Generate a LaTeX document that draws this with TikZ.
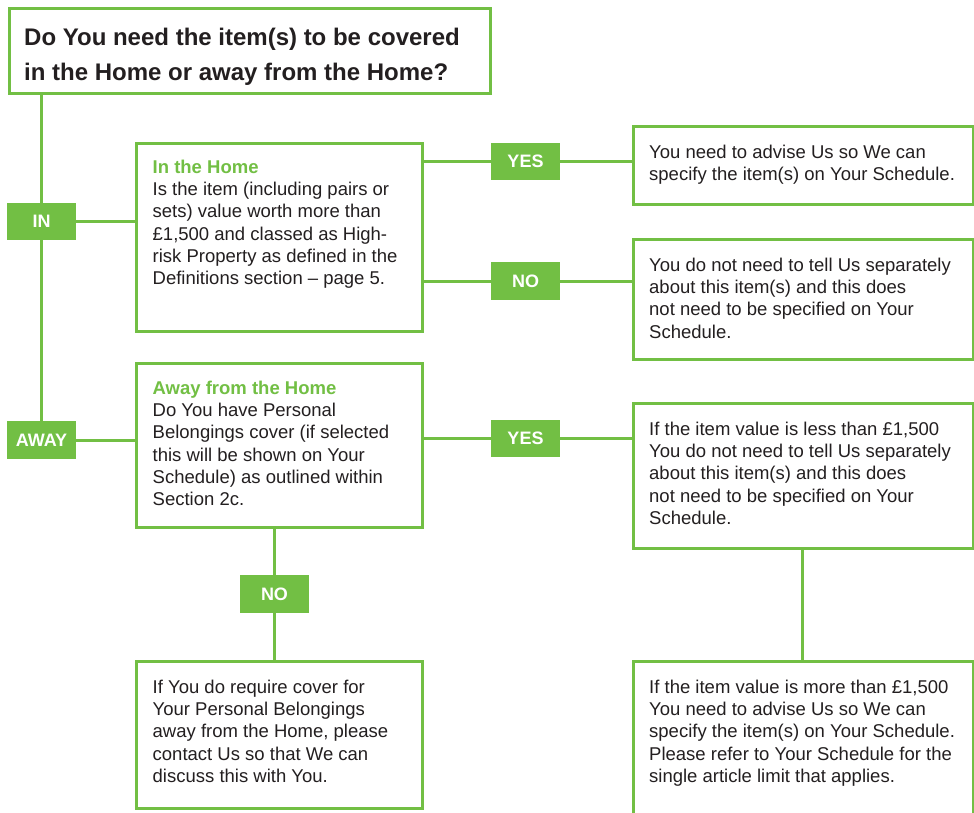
\documentclass[tikz,border=0pt]{standalone}
\usepackage{fontspec}
\setmainfont{Liberation Sans}
\definecolor{grn}{RGB}{114,191,68}
\definecolor{ink}{RGB}{35,31,32}
\begin{document}
\begin{tikzpicture}[x=1pt,y=-1pt,
  frame/.style={draw=grn, line width=3pt, rectangle, inner sep=0pt, anchor=north west},
  lab/.style={fill=grn, text=white, font=\bfseries\fontsize{18}{20}\selectfont, minimum width=69pt, minimum height=37pt, inner sep=0pt},
  body/.style={anchor=north west, align=left, inner sep=0pt, text=ink, font=\fontsize{18.5}{22.3}\selectfont},
  ttl/.style={anchor=north west, align=left, inner sep=0pt, text=ink, font=\bfseries\fontsize{24}{35}\selectfont},
  conn/.style={draw=grn, line width=3pt}]
\clip (0,0) rectangle (974,812);
\fill[white] (0,0) rectangle (974,812);
% frames
\node[frame, minimum width=481pt, minimum height=85pt] (title) at (7.5,6.5) {};
\node[frame, minimum width=286pt, minimum height=188pt] (inhome) at (135,142) {};
\node[frame, minimum width=286pt, minimum height=164pt] (away) at (135,362) {};
\node[frame, minimum width=286pt, minimum height=147pt] (contact) at (135,660) {};
\node[frame, minimum width=340pt, minimum height=78pt] (r1) at (632,125) {};
\node[frame, minimum width=340pt, minimum height=120pt] (r2) at (632,238) {};
\node[frame, minimum width=340pt, minimum height=145pt] (r3) at (632,402) {};
\node[frame, minimum width=340pt, minimum height=180pt] (r4) at (632,660) {};
% labels
\node[lab] (inlab) at (41.5,221.5) {IN};
\node[lab, minimum height=38pt] (awaylab) at (41.5,440) {AWAY};
\node[lab] (yes1) at (525.5,161.5) {YES};
\node[lab, minimum height=38pt] (no1) at (525.5,281) {NO};
\node[lab] (yes2) at (525.5,438.5) {YES};
\node[lab, minimum height=38pt] (no2) at (274.5,594) {NO};
\coordinate (vx) at (802,0);
% connectors
\draw[conn] (inlab |- title.south) -- (inlab.north);
\draw[conn] (inlab.south) -- (awaylab.north);
\draw[conn] (inlab.east) -- (inhome.west |- inlab);
\draw[conn] (awaylab.east) -- (away.west |- awaylab);
\draw[conn] (inhome.east |- yes1) -- (yes1.west);
\draw[conn] (yes1.east) -- (r1.west |- yes1);
\draw[conn] (inhome.east |- no1) -- (no1.west);
\draw[conn] (no1.east) -- (r2.west |- no1);
\draw[conn] (away.east |- yes2) -- (yes2.west);
\draw[conn] (yes2.east) -- (r3.west |- yes2);
\draw[conn] (no2 |- away.south) -- (no2.north);
\draw[conn] (no2.south) -- (no2 |- contact.north);
\draw[conn] (r3.south -| vx) -- (r4.north -| vx);
% texts
\node[ttl] (ttltext) at (24,27.5) {Do You need the item(s) to be covered\\in the Home or away from the Home?};
\node[body] (inhometext) at (152.5,159.5) {\textcolor{grn}{\bfseries In the Home}\\Is the item (including pairs or\\sets) value worth more than\\£1,500 and classed as High-\\risk Property as defined in the\\Definitions section -- page 5.};
\node[body] (awaytext) at (152.5,380.5) {\textcolor{grn}{\bfseries Away from the Home}\\Do You have Personal\\Belongings cover (if selected\\this will be shown on Your\\Schedule) as outlined within\\Section 2c.};
\node[body] (contacttext) at (152.5,679.5) {If You do require cover for\\Your Personal Belongings\\away from the Home, please\\contact Us so that We can\\discuss this with You.};
\node[body] (r1text) at (649,144.5) {You need to advise Us so We can\\specify the item(s) on Your Schedule.};
\node[body] (r2text) at (649,257.5) {You do not need to tell Us separately\\about this item(s) and this does\\not need to be specified on Your\\Schedule.};
\node[body] (r3text) at (649,421.5) {If the item value is less than £1,500\\You do not need to tell Us separately\\about this item(s) and this does\\not need to be specified on Your\\Schedule.};
\node[body] (r4text) at (649,679.5) {If the item value is more than £1,500\\You need to advise Us so We can\\specify the item(s) on Your Schedule.\\Please refer to Your Schedule for the\\single article limit that applies.};
\end{tikzpicture}
\end{document}
